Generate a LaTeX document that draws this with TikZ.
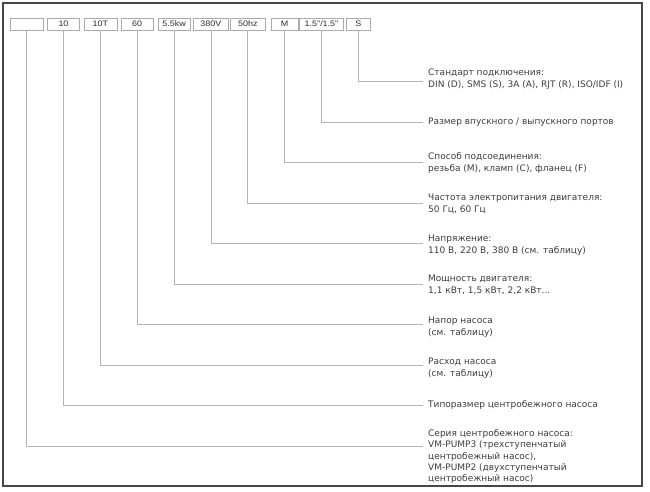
\documentclass[tikz,border=0pt]{standalone}
\usepackage{fontspec}
\setmainfont{DejaVu Sans}
\newfontfamily\labfont{DejaVu Sans}
\newfontfamily\boxfont{Liberation Sans}[FakeStretch=1.12]
\definecolor{framecol}{HTML}{474747}
\definecolor{boxgray}{HTML}{ABABAB}
\definecolor{linegray}{HTML}{B4B4B4}
\definecolor{txt}{HTML}{3C3C3C}
\definecolor{boxtxt}{HTML}{2E2E2E}
\newcommand{\lbl}[1]{\begin{tabular}[t]{@{}l@{}}#1\end{tabular}}
\begin{document}
\begin{tikzpicture}[x=1pt,y=-1pt,
  codebox/.style={draw=boxgray, line width=0.7pt, fill=white, minimum height=12pt,
    inner sep=0pt, font=\boxfont\fontsize{8}{10}\selectfont, text=boxtxt},
  conn/.style={draw=linegray, line width=0.8pt},
  lab/.style={anchor=base west, inner sep=0pt, font=\labfont\fontsize{9}{12}\selectfont, text=txt},
  outerframe/.style={draw=framecol, line width=1.4pt}]
\useasboundingbox (0,0) rectangle (650,492);
\draw[outerframe] (3,3) rectangle (642,486);

% code boxes
\node[codebox, minimum width=33.7pt] (b0) at (26.7,24) {};
\node[codebox, minimum width=32.6pt] (b1) at (63.5,24) {10};
\node[codebox, minimum width=33pt]   (b2) at (100.4,24) {10T};
\node[codebox, minimum width=32.7pt] (b3) at (137.2,24) {60};
\node[codebox, minimum width=31.7pt] (b4) at (174.1,24) {5.5kw};
\node[codebox, minimum width=34.3pt] (b5) at (210.9,24) {380V};
\node[codebox, minimum width=35pt]   (b6) at (247.8,24) {50hz};
\node[codebox, minimum width=27pt]   (b7) at (284.6,24) {M};
\node[codebox, minimum width=43.7pt] (b8) at (321.5,24) {1.5"/1.5"};
\node[codebox, minimum width=24pt]   (b9) at (358.3,24) {S};

% connector ends
\coordinate (e9) at (423,81.5);
\coordinate (e8) at (423,122);
\coordinate (e7) at (423,162.5);
\coordinate (e6) at (423,203);
\coordinate (e5) at (423,243.5);
\coordinate (e4) at (423,284);
\coordinate (e3) at (423,324.5);
\coordinate (e2) at (423,365);
\coordinate (e1) at (423,405.5);
\coordinate (e0) at (423,446);

\foreach \i in {0,...,9} { \draw[conn] (b\i.south) |- (e\i); }

% labels
\node[lab] (l9) at (428,75.5) {\lbl{Стандарт подключения:\\DIN (D), SMS (S), 3A (A), RJT (R), ISO/IDF (I)}};
\node[lab] (l8) at (428,124.5) {\lbl{Размер впускного / выпускного портов}};
\node[lab] (l7) at (428,159.7) {\lbl{Способ подсоединения:\\резьба (M), кламп (C), фланец (F)}};
\node[lab] (l6) at (428,200.5) {\lbl{Частота электропитания двигателя:\\50 Гц, 60 Гц}};
\node[lab] (l5) at (428,241.5) {\lbl{Напряжение:\\110 В, 220 В, 380 В (см. таблицу)}};
\node[lab] (l4) at (428,281.5) {\lbl{Мощность двигателя:\\1,1 кВт, 1,5 кВт, 2,2 кВт...}};
\node[lab] (l3) at (428,323) {\lbl{Напор насоса\\(см. таблицу)}};
\node[lab] (l2) at (428,364.5) {\lbl{Расход насоса\\(см. таблицу)}};
\node[lab] (l1) at (428,407) {\lbl{Типоразмер центробежного насоса}};
\node[lab, font=\labfont\fontsize{9}{11.3}\selectfont] (l0) at (428,436.5) {\lbl{Серия центробежного насоса:\\VM-PUMP3 (трехступенчатый\\центробежный насос),\\VM-PUMP2 (двухступенчатый\\центробежный насос)}};
\end{tikzpicture}
\end{document}
